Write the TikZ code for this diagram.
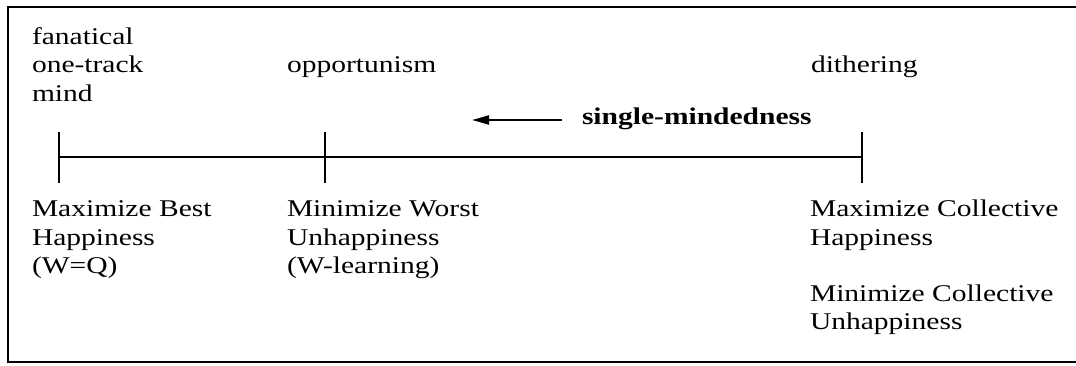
\documentclass[tikz,border=0pt]{standalone}
\usepackage{fontspec}
\setmainfont[FakeStretch=1.23]{Liberation Serif}
\usetikzlibrary{arrows.meta}
\begin{document}
\begin{tikzpicture}[x=1pt, y=-1pt,
  line width=2.2pt,
  lbl/.style={inner sep=0pt, outer sep=0pt, anchor=base west, align=left,
              font=\fontsize{24}{28.5}\selectfont},
  tick/.style={line width=2.2pt},
  dirarrow/.style={line width=2pt, -{Triangle[length=17pt,width=9pt]}}]
\useasboundingbox (0,0) rectangle (1076,366);
% frame (open on the right)
\draw[line width=2.4pt] (1076,7) -- (8,7) -- (8,362) -- (1076,362);
% axis
\coordinate (L) at (59,157);
\coordinate (M) at (325,157);
\coordinate (R) at (862,157);
\draw (L) -- (R);
\foreach \p in {L,M,R} \draw[tick] ([yshift=-26pt]\p) -- ([yshift=25pt]\p);
% top labels (anchor = baseline of last line)
\node[lbl] (fan) at (32,101.5) {fanatical\\one-track\\mind};
\node[lbl] (opp) at (287,73) {opportunism};
\node[lbl] (dith) at (811,73) {dithering};
% arrow and label
\coordinate (atail) at (562,120);
\coordinate (ahead) at (472,120);
\draw[dirarrow] (atail) -- (ahead);
\node[lbl, font=\fontsize{24}{28.5}\selectfont\bfseries] (sm) at (582,125) {single-mindedness};
% bottom labels (anchor = baseline of last line)
\node[lbl] (mbh) at (32,273.5) {Maximize Best\\Happiness\\(W=Q)};
\node[lbl] (mwu) at (287,273.5) {Minimize Worst\\Unhappiness\\(W-learning)};
\node[lbl] (mch) at (810,245) {Maximize Collective\\Happiness};
\node[lbl] (mcu) at (810,329.5) {Minimize Collective\\Unhappiness};
\end{tikzpicture}
\end{document}
